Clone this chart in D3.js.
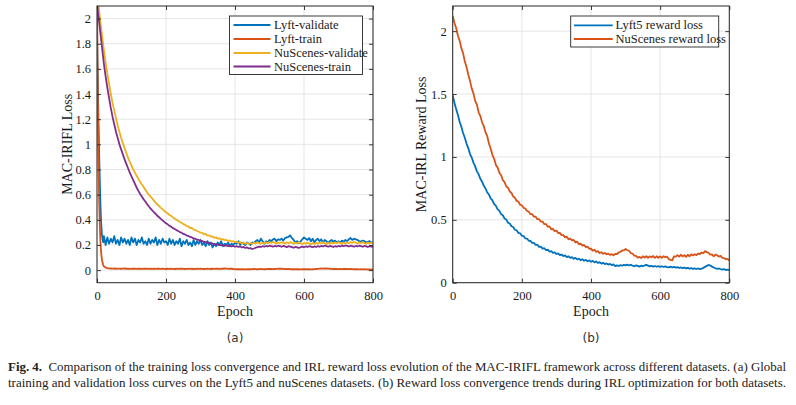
<!DOCTYPE html>
<html>
<head>
<meta charset="utf-8">
<script src="https://cdn.jsdelivr.net/npm/d3@7"></script>
<style>
  body { margin: 0; background: #fff; }
</style>
</head>
<body>
<div id="fig"></div>
<script>
// ---- data ----
const epochs = d3.range(0, 801, 5)
const lyftEpochs = [0, 2, 4, 6, 8, 10, 12, 14, 16, 18].concat(d3.range(20, 801, 5))

const lossTicksY = [0, 0.2, 0.4, 0.6, 0.8, 1, 1.2, 1.4, 1.6, 1.8, 2]
const rewardTicksY = [0, 0.5, 1, 1.5, 2]
const epochTicks = [0, 200, 400, 600, 800]

const lyftValLoss = [1.85,1.55,1.22,0.95,0.72,0.52,0.38,0.29,0.25,0.22,
  0.27,0.2,0.26,0.21,0.25,0.22,0.27,0.21,0.24,0.2,
  0.26,0.22,0.25,0.21,0.24,0.2,0.26,0.22,0.25,0.2,
  0.24,0.22,0.26,0.21,0.23,0.2,0.25,0.21,0.24,0.22,
  0.26,0.2,0.24,0.21,0.25,0.22,0.23,0.2,0.25,0.21,
  0.24,0.2,0.23,0.21,0.25,0.19,0.23,0.21,0.24,0.2,
  0.22,0.19,0.24,0.2,0.23,0.21,0.24,0.2,0.22,0.19,
  0.23,0.2,0.22,0.18,0.21,0.19,0.22,0.2,0.23,0.19,
  0.21,0.2,0.22,0.19,0.21,0.2,0.22,0.21,0.23,0.2,
  0.22,0.21,0.2,0.22,0.21,0.2,0.22,0.215,0.23,0.24,
  0.22,0.25,0.23,0.21,0.23,0.22,0.24,0.23,0.245,0.25,
  0.23,0.245,0.24,0.25,0.235,0.255,0.26,0.265,0.275,0.255,
  0.24,0.22,0.23,0.215,0.225,0.245,0.26,0.25,0.24,0.255,
  0.23,0.25,0.22,0.24,0.25,0.23,0.245,0.22,0.24,0.23,
  0.215,0.23,0.24,0.225,0.235,0.22,0.23,0.22,0.235,0.225,
  0.24,0.23,0.245,0.255,0.24,0.25,0.245,0.24,0.23,0.225,
  0.235,0.23,0.22,0.225,0.23,0.22,0.22]

const lyftTrainLoss = [2.15,1.55,0.95,0.58,0.36,0.22,0.14,0.09,0.06,0.04,
  0.03,0.02,0.016,0.014,0.013,0.012,0.013,0.011,0.012,0.012,
  0.011,0.012,0.013,0.011,0.012,0.01,0.011,0.012,0.011,0.01,
  0.012,0.011,0.01,0.011,0.012,0.011,0.01,0.011,0.01,0.011,
  0.01,0.011,0.012,0.01,0.011,0.01,0.009,0.011,0.01,0.011,
  0.01,0.009,0.011,0.01,0.012,0.011,0.01,0.009,0.01,0.011,
  0.01,0.011,0.009,0.01,0.011,0.01,0.012,0.01,0.009,0.01,
  0.011,0.01,0.009,0.011,0.01,0.012,0.011,0.01,0.012,0.011,
  0.013,0.012,0.01,0.012,0.011,0.009,0.008,0.007,0.008,0.007,
  0.008,0.007,0.006,0.007,0.008,0.007,0.008,0.009,0.008,0.007,
  0.008,0.009,0.008,0.007,0.008,0.009,0.01,0.009,0.008,0.009,
  0.01,0.011,0.012,0.011,0.01,0.009,0.008,0.009,0.008,0.007,
  0.008,0.007,0.008,0.007,0.006,0.007,0.008,0.007,0.008,0.007,
  0.006,0.007,0.008,0.009,0.01,0.012,0.013,0.012,0.014,0.013,
  0.012,0.011,0.01,0.009,0.01,0.009,0.008,0.009,0.008,0.009,
  0.01,0.009,0.008,0.009,0.008,0.007,0.008,0.007,0.006,0.007,
  0.006,0.007,0.006,0.005,0.006,0.005,0.004]

const nsValLoss = [2.22,2.09,1.97,1.86,1.75,1.65,1.56,1.48,1.40,1.33,
  1.27,1.21,1.15,1.10,1.05,1.01,0.97,0.93,0.895,0.86,
  0.83,0.80,0.775,0.75,0.725,0.70,0.68,0.66,0.64,0.62,
  0.60,0.585,0.57,0.553,0.537,0.522,0.51,0.495,0.485,0.47,
  0.46,0.452,0.438,0.431,0.418,0.412,0.399,0.394,0.381,0.378,
  0.366,0.361,0.35,0.347,0.335,0.336,0.322,0.318,0.311,0.305,
  0.298,0.296,0.285,0.288,0.274,0.277,0.266,0.268,0.257,0.261,
  0.25,0.253,0.243,0.247,0.238,0.24,0.232,0.236,0.226,0.23,
  0.222,0.227,0.216,0.222,0.212,0.219,0.21,0.216,0.207,0.215,
  0.21,0.218,0.211,0.221,0.214,0.209,0.218,0.212,0.221,0.214,
  0.223,0.216,0.225,0.218,0.211,0.22,0.214,0.223,0.216,0.211,
  0.221,0.213,0.223,0.217,0.209,0.219,0.212,0.221,0.214,0.207,
  0.216,0.21,0.219,0.212,0.205,0.215,0.208,0.217,0.21,0.219,
  0.212,0.221,0.214,0.207,0.217,0.21,0.219,0.212,0.221,0.214,
  0.223,0.216,0.209,0.219,0.212,0.221,0.214,0.223,0.216,0.225,
  0.218,0.211,0.221,0.214,0.223,0.216,0.209,0.219,0.212,0.22,
  0.216]

const nsTrainLoss = [2.12,2.0,1.88,1.76,1.64,1.54,1.45,1.37,1.29,1.22,
  1.16,1.10,1.05,1.0,0.96,0.92,0.88,0.845,0.81,0.775,
  0.745,0.715,0.685,0.655,0.63,0.605,0.585,0.563,0.545,0.525,
  0.508,0.49,0.476,0.46,0.447,0.432,0.42,0.408,0.396,0.384,
  0.372,0.364,0.352,0.345,0.334,0.328,0.318,0.312,0.302,0.298,
  0.288,0.284,0.275,0.272,0.264,0.26,0.252,0.25,0.242,0.24,
  0.232,0.232,0.224,0.225,0.216,0.218,0.21,0.212,0.204,0.207,
  0.2,0.203,0.196,0.2,0.193,0.197,0.19,0.194,0.188,0.192,
  0.186,0.19,0.184,0.188,0.18,0.184,0.176,0.18,0.172,0.175,
  0.168,0.172,0.178,0.182,0.186,0.184,0.19,0.186,0.192,0.188,
  0.194,0.19,0.186,0.192,0.188,0.194,0.19,0.186,0.192,0.188,
  0.183,0.19,0.186,0.182,0.178,0.184,0.18,0.176,0.182,0.186,
  0.182,0.188,0.184,0.19,0.186,0.182,0.188,0.184,0.19,0.186,
  0.192,0.188,0.194,0.19,0.186,0.192,0.188,0.184,0.19,0.186,
  0.192,0.188,0.194,0.19,0.196,0.192,0.188,0.194,0.19,0.186,
  0.192,0.188,0.194,0.19,0.186,0.192,0.188,0.184,0.19,0.186,
  0.188]

const lyft5Reward = [1.49,1.43,1.38,1.335,1.28,1.24,1.19,1.152,1.106,1.07,
  1.025,0.995,0.955,0.925,0.885,0.862,0.826,0.803,0.77,0.749,
  0.717,0.7,0.669,0.655,0.624,0.611,0.583,0.571,0.545,0.536,
  0.51,0.502,0.477,0.471,0.449,0.443,0.421,0.417,0.396,0.393,
  0.374,0.371,0.352,0.351,0.333,0.333,0.316,0.316,0.3,0.301,
  0.285,0.287,0.271,0.274,0.259,0.262,0.248,0.251,0.237,0.242,
  0.228,0.233,0.219,0.224,0.211,0.217,0.203,0.21,0.197,0.203,
  0.19,0.198,0.185,0.192,0.179,0.187,0.174,0.182,0.17,0.178,
  0.166,0.174,0.161,0.169,0.157,0.163,0.152,0.158,0.148,0.153,
  0.144,0.149,0.14,0.145,0.132,0.138,0.133,0.14,0.135,0.142,
  0.138,0.144,0.137,0.143,0.136,0.131,0.138,0.134,0.128,0.135,
  0.131,0.137,0.142,0.136,0.13,0.134,0.128,0.133,0.127,0.132,
  0.126,0.131,0.125,0.13,0.124,0.122,0.128,0.121,0.126,0.12,
  0.124,0.117,0.122,0.115,0.12,0.114,0.118,0.112,0.116,0.11,
  0.114,0.109,0.113,0.107,0.112,0.118,0.126,0.134,0.141,0.136,
  0.128,0.121,0.115,0.11,0.113,0.107,0.104,0.108,0.101,0.104,
  0.1]

const nsReward = [2.12,2.065,2.025,1.965,1.925,1.865,1.825,1.76,1.715,1.655,
  1.605,1.545,1.505,1.445,1.415,1.355,1.325,1.275,1.245,1.195,
  1.165,1.105,1.065,1.015,0.985,0.935,0.915,0.875,0.855,0.815,
  0.8,0.765,0.755,0.725,0.715,0.685,0.675,0.65,0.645,0.62,
  0.615,0.595,0.59,0.57,0.565,0.545,0.545,0.525,0.525,0.505,
  0.505,0.485,0.486,0.465,0.466,0.445,0.447,0.425,0.427,0.41,
  0.414,0.395,0.396,0.378,0.378,0.36,0.366,0.345,0.35,0.336,
  0.34,0.32,0.326,0.305,0.311,0.295,0.3,0.282,0.287,0.27,
  0.271,0.255,0.262,0.245,0.251,0.236,0.242,0.23,0.236,0.226,
  0.231,0.221,0.227,0.218,0.229,0.228,0.24,0.245,0.256,0.257,
  0.268,0.258,0.254,0.236,0.232,0.215,0.213,0.2,0.205,0.196,
  0.21,0.2,0.21,0.198,0.209,0.202,0.212,0.197,0.21,0.198,
  0.209,0.197,0.211,0.203,0.207,0.188,0.182,0.178,0.21,0.207,
  0.218,0.207,0.222,0.209,0.219,0.206,0.222,0.21,0.225,0.217,
  0.226,0.219,0.232,0.227,0.24,0.236,0.251,0.243,0.238,0.224,
  0.225,0.21,0.224,0.218,0.207,0.213,0.198,0.196,0.186,0.189,
  0.178]

const captionLines = [
  ["Fig. 4.", "  Comparison of the training loss convergence and IRL reward loss evolution of the MAC-IRIFL framework across different datasets. (a) Global"],
  ["", "training and validation loss curves on the Lyft5 and nuScenes datasets. (b) Reward loss convergence trends during IRL optimization for both datasets."]
]

// MATLAB default colours
const blue = "#0072BD", orange = "#D95319", yellow = "#EDB120", purple = "#7E2F8E"
const axisColor = "#262626"
const serif = "'Liberation Serif', 'Times New Roman', serif"

const W = 796, H = 405
const svg = d3.select("#fig").append("svg")
    .attr("width", W).attr("height", H)
    .attr("viewBox", "0 0 " + W + " " + H)
svg.append("rect").attr("width", W).attr("height", H).attr("fill", "#fff")

const panels = [
  {
    id: "a", xr: [97, 373], yd: [-0.1, 2.1], yTicks: lossTicksY,
    ylabel: "MAC-IRIFL Loss", ylabelX: 71.5, tag: "(a)",
    series: [
      {name: "Lyft-validate", x: lyftEpochs, y: lyftValLoss, color: blue},
      {name: "Lyft-train", x: lyftEpochs, y: lyftTrainLoss, color: orange},
      {name: "NuScenes-validate", x: epochs, y: nsValLoss, color: yellow},
      {name: "NuScenes-train", x: epochs, y: nsTrainLoss, color: purple}
    ],
    legend: {x: 229.5, y: 16, w: 133, rowY: [25, 39, 53, 66.5], lineX: [233.5, 270.5], textX: 274}
  },
  {
    id: "b", xr: [452.7, 729.3], yd: [0, 2.2], yTicks: rewardTicksY,
    ylabel: "MAC-IRL Reward Loss", ylabelX: 426, tag: "(b)",
    series: [
      {name: "Lyft5 reward loss", x: epochs, y: lyft5Reward, color: blue},
      {name: "NuScenes reward loss", x: epochs, y: nsReward, color: orange}
    ],
    legend: {x: 570.7, y: 16, w: 148, rowY: [25.3, 39], lineX: [574, 612.7], textX: 615.5}
  }
]

const yTop = 6, yBottom = 282.7

panels.forEach(p => {
  const x = d3.scaleLinear().domain([0, 800]).range(p.xr)
  const y = d3.scaleLinear().domain(p.yd).range([yBottom, yTop])
  const g = svg.append("g").attr("id", "panel_" + p.id)
  const fmt = d => String(+d.toFixed(1))

  // grid
  g.append("g").selectAll("line").data(epochTicks).join("line")
      .attr("x1", d => x(d)).attr("x2", d => x(d))
      .attr("y1", yTop).attr("y2", yBottom)
      .attr("stroke", "#e2e2e2").attr("stroke-width", 0.9)
  g.append("g").selectAll("line").data(p.yTicks).join("line")
      .attr("x1", p.xr[0]).attr("x2", p.xr[1])
      .attr("y1", d => y(d)).attr("y2", d => y(d))
      .attr("stroke", "#e2e2e2").attr("stroke-width", 0.9)

  // lines
  g.append("clipPath").attr("id", "clip_" + p.id)
    .append("rect").attr("x", p.xr[0]).attr("y", yTop)
    .attr("width", p.xr[1] - p.xr[0]).attr("height", yBottom - yTop)
  const line = d3.line().x(d => x(d[0])).y(d => y(d[1]))
  g.append("g").attr("clip-path", "url(#clip_" + p.id + ")")
    .selectAll("path").data(p.series).join("path")
      .attr("d", s => line(d3.zip(s.x, s.y)))
      .attr("fill", "none")
      .attr("stroke", s => s.color)
      .attr("stroke-width", 1.8)
      .attr("stroke-linejoin", "round")

  // axes, MATLAB style: inward ticks on all four sides
  const styleAxis = sel => {
    sel.select(".domain").remove()
    sel.selectAll(".tick line").attr("stroke", axisColor).attr("stroke-width", 0.9)
    sel.selectAll("text").attr("fill", "#1a1a1a")
      .style("font-family", serif).style("font-size", "12.5px")
  }
  g.append("g").attr("transform", "translate(0," + yBottom + ")")
    .call(d3.axisBottom(x).tickValues(epochTicks).tickSize(-4).tickPadding(8))
    .call(styleAxis)
  g.append("g").attr("transform", "translate(0," + yTop + ")")
    .call(d3.axisTop(x).tickValues(epochTicks).tickSize(-4).tickFormat(""))
    .call(styleAxis)
  g.append("g").attr("transform", "translate(" + p.xr[0] + ",0)")
    .call(d3.axisLeft(y).tickValues(p.yTicks).tickSize(-4).tickPadding(6).tickFormat(fmt))
    .call(styleAxis)
  g.append("g").attr("transform", "translate(" + p.xr[1] + ",0)")
    .call(d3.axisRight(y).tickValues(p.yTicks).tickSize(-4).tickFormat(""))
    .call(styleAxis)

  g.append("rect")
    .attr("x", p.xr[0]).attr("y", yTop)
    .attr("width", p.xr[1] - p.xr[0]).attr("height", yBottom - yTop)
    .attr("fill", "none").attr("stroke", axisColor).attr("stroke-width", 1)

  // labels
  const cx = (p.xr[0] + p.xr[1]) / 2
  g.append("text").text("Epoch")
    .attr("x", cx).attr("y", 316).attr("text-anchor", "middle")
    .style("font-family", serif).style("font-size", "14px").attr("fill", "#1a1a1a")
  g.append("text").text(p.ylabel)
    .attr("transform", "translate(" + p.ylabelX + "," + ((yTop + yBottom) / 2) + ") rotate(-90)")
    .attr("text-anchor", "middle")
    .style("font-family", serif).style("font-size", "14px").attr("fill", "#1a1a1a")
  g.append("text").text(p.tag)
    .attr("x", cx).attr("y", 341.5).attr("text-anchor", "middle")
    .style("font-family", "'DejaVu Sans', sans-serif").style("font-size", "12px").attr("fill", "#333")

  // legend
  const L = p.legend
  const lg = g.append("g")
  lg.append("rect").attr("x", L.x).attr("y", L.y).attr("width", L.w)
    .attr("height", L.rowY[L.rowY.length - 1] - L.y + 8)
    .attr("fill", "#fff").attr("stroke", axisColor).attr("stroke-width", 0.9)
  const rows = lg.selectAll("g").data(p.series).join("g")
  rows.append("line")
    .attr("x1", L.lineX[0]).attr("x2", L.lineX[1])
    .attr("y1", (d, i) => L.rowY[i]).attr("y2", (d, i) => L.rowY[i])
    .attr("stroke", d => d.color).attr("stroke-width", 1.8)
  rows.append("text").text(d => d.name)
    .attr("x", L.textX).attr("y", (d, i) => L.rowY[i]).attr("dy", "0.33em")
    .style("font-family", serif).style("font-size", "12.5px").attr("fill", "#1a1a1a")
})

// caption
const cap = svg.append("g")
cap.selectAll("text").data(captionLines).join("text")
    .attr("x", 8).attr("y", (d, i) => 371 + i * 16)
    .attr("textLength", 778).attr("lengthAdjust", "spacingAndGlyphs")
    .style("font-family", serif).style("font-size", "12.5px").attr("fill", "#222")
    .each(function (d) {
      const t = d3.select(this)
      if (d[0]) t.append("tspan").attr("font-weight", "bold").text(d[0])
      t.append("tspan").text(d[1]).attr("xml:space", "preserve")
    })
</script>
</body>
</html>
